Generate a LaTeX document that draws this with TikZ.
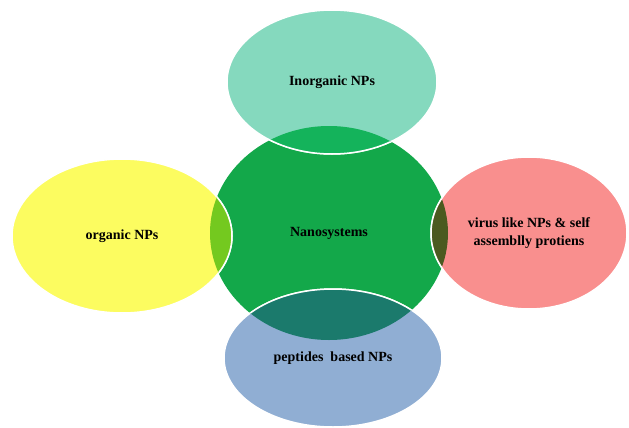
\documentclass[tikz,border=0pt]{standalone}
\usepackage{fontspec}
\setmainfont{Liberation Serif}
\usetikzlibrary{shapes.geometric}

\definecolor{nanogreen}{HTML}{13A84A}
\definecolor{inorgteal}{HTML}{85D9BE}
\definecolor{orgyellow}{HTML}{FCFC60}
\definecolor{viruspink}{HTML}{F98F8E}
\definecolor{peptblue}{HTML}{90AED3}
\definecolor{inorgmix}{HTML}{14B35B}
\definecolor{orgmix}{HTML}{74C91F}
\definecolor{virusmix}{HTML}{4B5A20}
\definecolor{peptmix}{HTML}{1B7A6C}

\tikzset{
	blob/.style={ellipse,inner sep=0,outer sep=0,draw=white,line width=1.5pt,
		font=\fontsize{14}{18.5}\selectfont\bfseries,align=center},
}

\begin{document}
\begin{tikzpicture}[x=1pt,y=-1pt]
	\useasboundingbox (0,0) rectangle (629,428);
	\node[blob,draw=none,fill=nanogreen,minimum width=238pt,minimum height=214pt] (nano) at (329,233) {Nanosystems};
	\node[blob,fill=inorgteal,minimum width=210pt,minimum height=144pt] (inorg) at (332,82) {Inorganic NPs};
	\node[blob,fill=orgyellow,minimum width=220pt,minimum height=154pt] (org) at (122,236) {organic NPs};
	\node[blob,fill=viruspink,minimum width=196pt,minimum height=152pt] (virus) at (529,233) {virus like NPs \& self\\assemblly protiens};
	\node[blob,fill=peptblue,minimum width=218pt,minimum height=138pt] (pept) at (333,358) {peptides~ based NPs};
	% overlaps with the centre
	\begin{scope}
		\clip (nano.center) ellipse [x radius=119pt,y radius=107pt];
		\filldraw[fill=inorgmix,draw=white,line width=1.5pt] (inorg.center) ellipse [x radius=105pt,y radius=72pt];
		\filldraw[fill=orgmix,draw=white,line width=1.5pt] (org.center) ellipse [x radius=110pt,y radius=77pt];
		\filldraw[fill=virusmix,draw=white,line width=1.5pt] (virus.center) ellipse [x radius=98pt,y radius=76pt];
		\filldraw[fill=peptmix,draw=white,line width=1.5pt] (pept.center) ellipse [x radius=109pt,y radius=69pt];
	\end{scope}
\end{tikzpicture}
\end{document}
